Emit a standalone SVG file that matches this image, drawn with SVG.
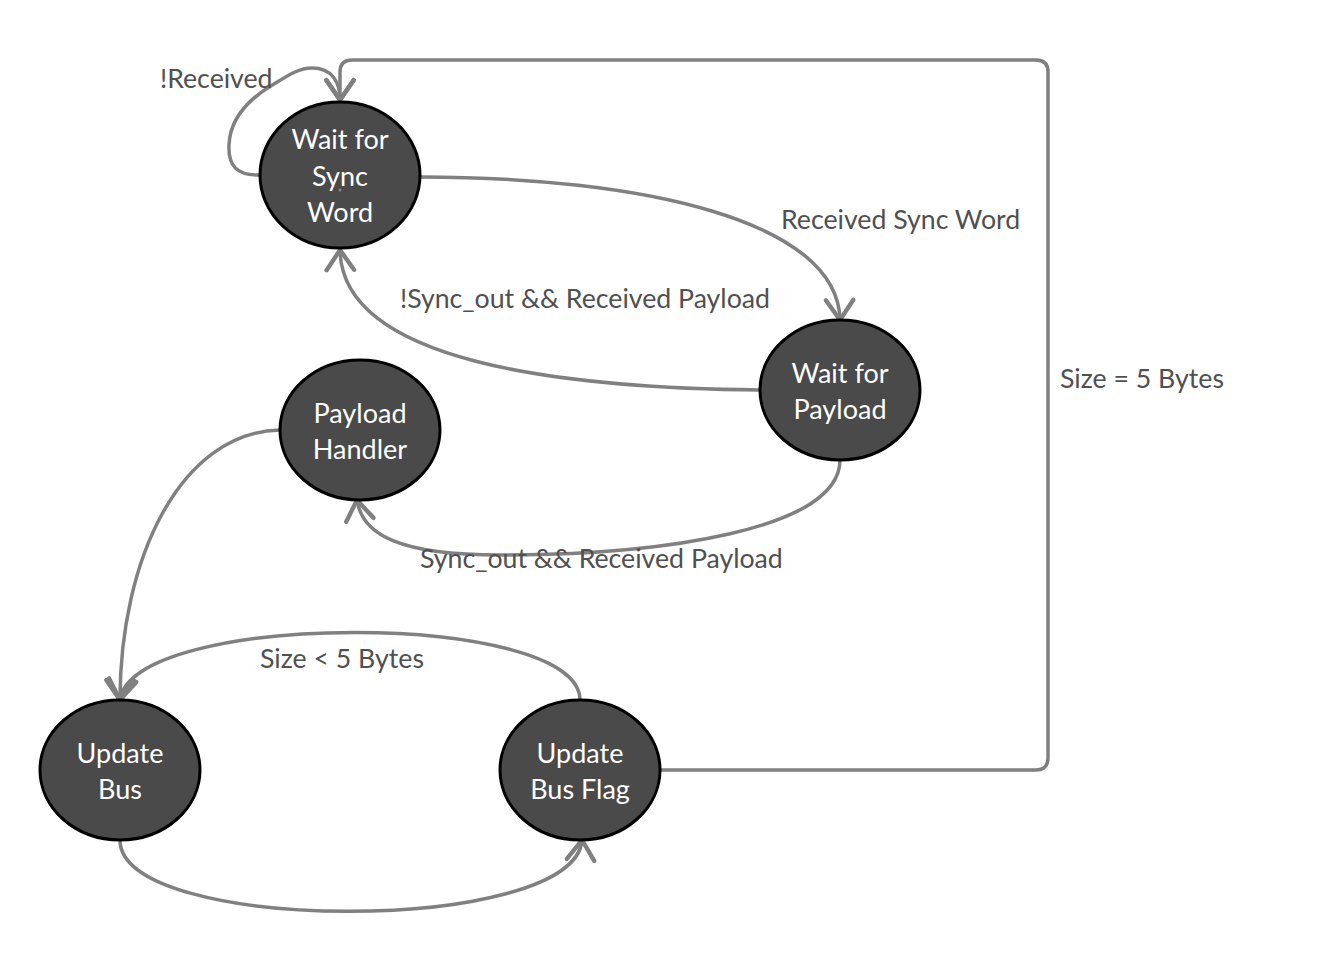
<svg xmlns="http://www.w3.org/2000/svg" width="1320" height="955" viewBox="0 0 1320 955">
<style>
.node{fill:#4a4a4a;stroke:#000;stroke-width:3}
.nt{fill:#fff;font-family:Lato,"Noto Sans",sans-serif;font-size:27px;text-anchor:middle}
.edge{fill:none;stroke:#808080;stroke-width:3.5}
.lbl{fill:#505050;font-family:Lato,"Noto Sans",sans-serif;font-size:26.7px}
</style>
<defs>
<marker id="arr" markerUnits="userSpaceOnUse" markerWidth="30" markerHeight="30" refX="0" refY="0" viewBox="-18 -12 22 24" orient="auto" overflow="visible">
<path d="M-16,-11 L0,0 L-16,11" fill="none" stroke="#808080" stroke-width="3.5" stroke-linecap="round" stroke-linejoin="round"/>
</marker>
</defs>
<rect width="1320" height="955" fill="#fff"/>
<g id="connectors">
<path class="edge" marker-end="url(#arr)" d="M261,175 C236,176 228,165 229,145 C230,118 250,98 274,84 C290,74 300,68 312,68 C332,68 340,82 340,100"/>
<path class="edge" marker-end="url(#arr)" d="M660,770 L1036,770 Q1048,770 1048,758 L1048,72 Q1048,60 1036,60 L352,60 Q340,60 340,72 L340,100"/>
<path class="edge" marker-end="url(#arr)" d="M420,177 C640,177 838,220 840,320"/>
<path class="edge" marker-end="url(#arr)" d="M760,390 C560,388 342,362 340,250"/>
<path class="edge" marker-end="url(#arr)" d="M840,460 C840,530 660,555 500,555 C400,555 362,535 357,500"/>
<path class="edge" marker-end="url(#arr)" d="M280,430 C180,432 120,560 120,700"/>
<path class="edge" marker-end="url(#arr)" d="M580,700 C580,610 132,610 120,700"/>
<path class="edge" marker-end="url(#arr)" d="M120,840 C120,935 575,935 582,840"/>
</g>
<g id="labels">
<text class="lbl" x="160" y="88">!Received</text>
<text class="lbl" x="781" y="229">Received Sync Word</text>
<text class="lbl" x="400" y="308">!Sync_out &amp;&amp; Received Payload</text>
<text class="lbl" x="1060" y="388">Size = 5 Bytes</text>
<text class="lbl" x="420" y="568">Sync_out &amp;&amp; Received Payload</text>
<text class="lbl" x="260" y="668">Size &lt; 5 Bytes</text>
</g>
<g id="wait-sync">
<ellipse class="node" cx="340" cy="175" rx="80" ry="73"/>
<text class="nt" x="340" y="149">Wait for</text>
<text class="nt" x="340" y="186">Sync</text>
<text class="nt" x="340" y="222">Word</text>
<circle cx="340" cy="190" r="1.5" fill="#888"/>
</g>
<g id="wait-payload">
<ellipse class="node" cx="840" cy="390" rx="80" ry="70"/>
<text class="nt" x="840" y="383">Wait for</text>
<text class="nt" x="840" y="419">Payload</text>
</g>
<g id="payload-handler">
<ellipse class="node" cx="360" cy="430" rx="80" ry="70"/>
<text class="nt" x="360" y="423">Payload</text>
<text class="nt" x="360" y="459">Handler</text>
</g>
<g id="update-bus">
<ellipse class="node" cx="120" cy="770" rx="80" ry="70"/>
<text class="nt" x="120" y="763">Update</text>
<text class="nt" x="120" y="799">Bus</text>
</g>
<g id="update-bus-flag">
<ellipse class="node" cx="580" cy="770" rx="80" ry="70"/>
<text class="nt" x="580" y="763">Update</text>
<text class="nt" x="580" y="799">Bus Flag</text>
</g>
</svg>
